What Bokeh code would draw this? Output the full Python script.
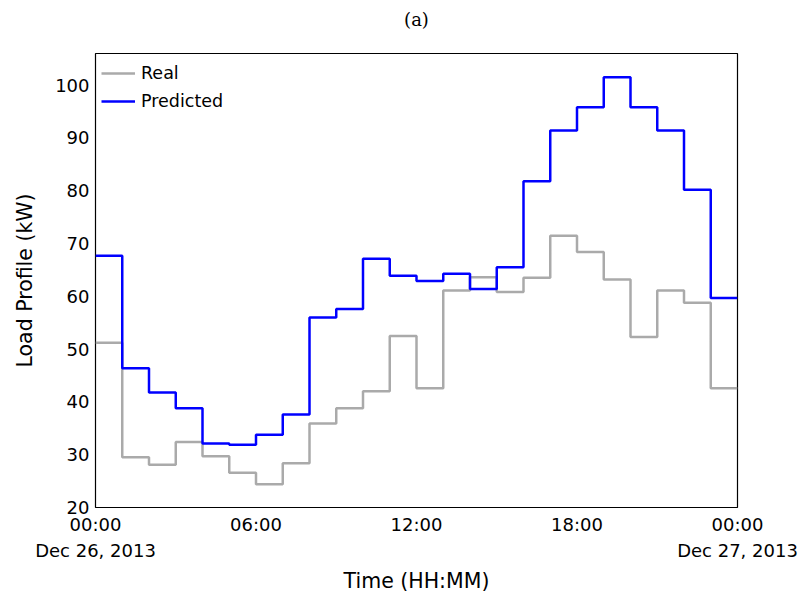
from datetime import datetime, timedelta
from bokeh.plotting import figure
from bokeh.models import FixedTicker, Range1d, Legend, LegendItem, Title
from bokeh.embed import file_html
from bokeh.resources import INLINE

# hourly values, Dec 26 2013 00:00 .. 23:00
real = [51.2, 29.5, 28.1, 32.4, 29.7, 26.6, 24.4, 28.4, 35.9, 38.8, 42.0, 52.5,
        42.6, 61.1, 63.6, 60.8, 63.5, 71.5, 68.4, 63.2, 52.3, 61.1, 58.8, 42.6]
predicted = [67.7, 46.4, 41.8, 38.8, 32.1, 31.9, 33.8, 37.6, 56.0, 57.6, 67.1, 63.9,
             62.9, 64.3, 61.4, 65.5, 81.8, 91.4, 95.8, 101.5, 95.8, 91.4, 80.2, 59.7]
y_ticks = [20, 30, 40, 50, 60, 70, 80, 90, 100]
x_tick_labels = ["00:00\nDec 26, 2013", "06:00", "12:00", "18:00", "00:00\nDec 27, 2013"]

start = datetime(2013, 12, 26)
times = [start + timedelta(hours=h) for h in range(len(real) + 1)]
real_s = real + [real[-1]]
pred_s = predicted + [predicted[-1]]

def ms(t):
    return (t - datetime(1970, 1, 1)).total_seconds() * 1000.0

x_ticks = [ms(start + timedelta(hours=6 * i)) for i in range(5)]

p = figure(width=800, height=600, x_axis_type="datetime",
           output_backend="svg", toolbar_location=None,
           min_border_left=95, min_border_right=63, min_border_top=53,
           min_border_bottom=93)
p.x_range = Range1d(x_ticks[0], x_ticks[-1])
p.y_range = Range1d(20, 106)

r1 = p.step(times, real_s, mode="after", line_color="#aaaaaa", line_width=2.5)
r2 = p.step(times, pred_s, mode="after", line_color="#0000ff", line_width=2.5)

legend = Legend(items=[LegendItem(label="Real", renderers=[r1]),
                       LegendItem(label="Predicted", renderers=[r2])],
                location="top_left", margin=6, padding=0, spacing=0,
                glyph_width=34, glyph_height=28, label_height=28,
                label_standoff=6, border_line_color=None,
                background_fill_color="white", background_fill_alpha=1.0,
                label_text_font="DejaVu Sans", label_text_font_size="17.5px",
                label_text_color="black")
p.add_layout(legend)

spacer = Title(text=" ", text_font_size="16px", standoff=0)
p.add_layout(spacer, "above")
title = Title(text="(a)", align="center", text_font="DejaVu Serif",
              text_font_size="18px", text_font_style="normal",
              text_color="black")
p.add_layout(title, "above")

p.xgrid.visible = False
p.ygrid.visible = False
p.outline_line_color = "black"
p.outline_line_width = 1.2
p.outline_line_alpha = 1.0

for ax in (p.xaxis[0], p.yaxis[0]):
    ax.axis_line_color = None
    ax.major_tick_in = 0
    ax.major_tick_out = 0
    ax.minor_tick_in = 0
    ax.minor_tick_out = 0
    ax.major_label_text_font = "DejaVu Sans"
    ax.major_label_text_font_size = "18px"
    ax.major_label_text_color = "black"
    ax.axis_label_text_font = "DejaVu Sans"
    ax.axis_label_text_font_size = "20.5px"
    ax.axis_label_text_font_style = "normal"
    ax.axis_label_text_color = "black"

p.xaxis.ticker = FixedTicker(ticks=x_ticks)
p.xaxis.major_label_overrides = {t: l for t, l in zip(x_ticks, x_tick_labels)}
p.xaxis.major_label_standoff = 6
p.xaxis.major_label_text_line_height = 1.25
p.xaxis.axis_label = "Time (HH:MM)"
p.xaxis.axis_label_standoff = 5

p.yaxis.ticker = FixedTicker(ticks=y_ticks)
p.yaxis.major_label_standoff = 6
p.yaxis.axis_label = "Load Profile (kW)"
p.yaxis.axis_label_standoff = 15

open("out.html", "w").write(file_html(p, INLINE))
